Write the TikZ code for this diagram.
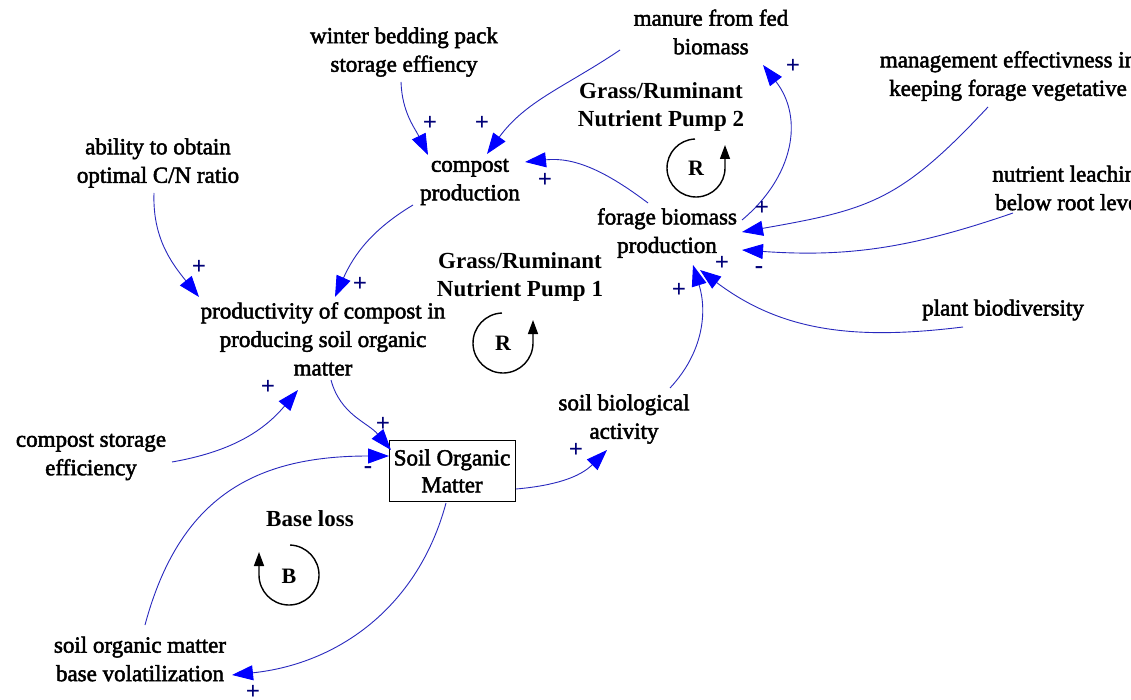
\documentclass[tikz,border=0pt]{standalone}
\usepackage{fontspec}
\setmainfont{Liberation Serif}
\newfontfamily\varfont{Liberation Serif}[RawFeature={embolden=2.2}]
\usetikzlibrary{arrows.meta}
\definecolor{linkblue}{RGB}{40,40,190}
\definecolor{headblue}{RGB}{0,0,255}
\definecolor{polblue}{RGB}{0,0,120}
\tikzset{
  var/.style={font=\varfont\fontsize{23}{28.5}\selectfont, align=center, inner sep=2pt},
  looptitle/.style={var, font=\rmfamily\fontsize{23}{28.5}\selectfont\bfseries},
  link/.style={draw=linkblue, line width=0.9pt, -{Triangle[length=21pt,width=15pt,color=headblue]}},
  pol/.style={text=polblue, font=\fontsize{25}{25}\selectfont\bfseries, inner sep=0pt},
  loopline/.style={draw=black, line width=1.4pt, -{Triangle[length=14pt,width=10pt]}},
  looplabel/.style={font=\rmfamily\fontsize{22}{22}\selectfont\bfseries, inner sep=0pt},
}
\begin{document}
\begin{tikzpicture}[x=1pt,y=1pt]
\useasboundingbox (0,0) rectangle (1131,-700);
\clip (0,0) rectangle (1131,-700);
\fill[white] (0,0) rectangle (1131,-700);

% variables
\node[var] (winter) at (404,-52) {winter bedding pack\\storage effiency};
\node[var] (manure) at (711,-32) {manure from fed\\biomass};
\node[var] (mgmt) at (1008,-76) {management effectivness in\\keeping forage vegetative};
\node[var] (leach) at (1070,-188) {nutrient leaching\\below root level};
\node[var] (plant) at (1003,-310) {plant biodiversity};
\node[var] (forage) at (667,-233) {forage biomass\\production};
\node[var] (compost) at (470,-182) {compost\\production};
\node[var] (ability) at (158,-163) {ability to obtain\\optimal C/N ratio};
\node[var] (prod) at (323,-339) {productivity of compost in\\producing soil organic\\matter};
\node[var] (bio) at (624,-419) {soil biological\\activity};
\node[var] (storage) at (91,-457) {compost storage\\efficiency};
\node[var, draw, line width=0.8pt, minimum width=126pt, minimum height=61pt, inner sep=0pt, font=\varfont\fontsize{23}{27}\selectfont] (som) at (452,-471) {Soil Organic\\Matter};
\node[var] (volat) at (140,-659) {soil organic matter\\base volatilization};

% loop titles
\node[looptitle] (pump2) at (661,-107) {Grass/Ruminant\\Nutrient Pump 2};
\node[looptitle] (pump1) at (520,-277) {Grass/Ruminant\\Nutrient Pump 1};
\node[looptitle] (baseloss) at (310,-519) {Base loss};

% loop symbols
\draw[loopline] (696,-168) ++(92:29) arc[start angle=92, end angle=360, radius=29] -- ++(0,23);
\node[looplabel] (r2) at (696,-168) {R};
\draw[loopline] (503,-343) ++(92:30) arc[start angle=92, end angle=360, radius=30] -- ++(0,23);
\node[looplabel] (r1) at (503,-343) {R};
\draw[loopline] (289,-575) ++(88:30) arc[start angle=88, end angle=-180, radius=30] -- ++(0,23);
\node[looplabel] (b1) at (289,-576) {B};

% connectors
\draw[link] ([shift={(-3,-30)}]winter.center) to[out=-88,in=116] ([shift={(-42,27)}]compost.center);
\draw[link] ([shift={(-91,-18)}]manure.center) to[out=214,in=54] ([shift={(17,28)}]compost.center);
\draw[link] ([shift={(-19,30)}]forage.center) to[out=143,in=6] ([shift={(55,20)}]compost.center);
\draw[link] ([shift={(75,13)}]forage.center) to[out=40,in=-52,looseness=1.1] ([shift={(52,-33)}]manure.center);
\draw[link] ([shift={(-20,-31)}]mgmt.center) to[out=227,in=10,looseness=1.2] ([shift={(75,1)}]forage.center);
\draw[link] ([shift={(-57,-25)}]leach.center) to[out=199,in=-4] ([shift={(75,-17)}]forage.center);
\draw[link] ([shift={(-40,-17)}]plant.center) to[out=187,in=-37] ([shift={(33,-37)}]forage.center);
\draw[link] ([shift={(46,31)}]bio.center) to[out=47,in=-73] ([shift={(26,-32)}]forage.center);
\draw[link] ([shift={(-57,-23)}]compost.center) to[out=211,in=66] ([shift={(12,42)}]prod.center);
\draw[link] ([shift={(-4,-30)}]ability.center) to[out=-92,in=129] ([shift={(-124,42)}]prod.center);
\draw[link] ([shift={(81,-5)}]storage.center) to[out=10,in=230] ([shift={(-25,-51)}]prod.center);
\draw[link] ([shift={(8,-41)}]prod.center) to[out=-75,in=130] ([shift={(-61,21)}]som.center);
\draw[link] ([shift={(5,34)}]volat.center) to[out=75,in=180,looseness=1.15] ([shift={(-63,15)}]som.center);
\draw[link] ([shift={(-6,-32)}]som.center) to[out=-105,in=6] ([shift={(92,-16)}]volat.center);
\draw[link] ([shift={(64,-18)}]som.center) to[out=5,in=225] ([shift={(-17,-31)}]bio.center);

% polarities
\node[pol] (p1) at (430,-123) {+};
\node[pol] (p2) at (482,-123) {+};
\node[pol] (p3) at (545,-180) {+};
\node[pol] (p4) at (793,-66) {+};
\node[pol] (p5) at (762,-208) {+};
\node[pol] (p6) at (759,-270) {-};
\node[pol] (p7) at (722,-263) {+};
\node[pol] (p8) at (679,-290) {+};
\node[pol] (p9) at (360,-284) {+};
\node[pol] (p10) at (199,-267) {+};
\node[pol] (p11) at (268,-387) {+};
\node[pol] (p12) at (383,-424) {+};
\node[pol] (p13) at (368,-470) {-};
\node[pol] (p14) at (253,-692) {+};
\node[pol] (p15) at (576,-450) {+};
\end{tikzpicture}
\end{document}
